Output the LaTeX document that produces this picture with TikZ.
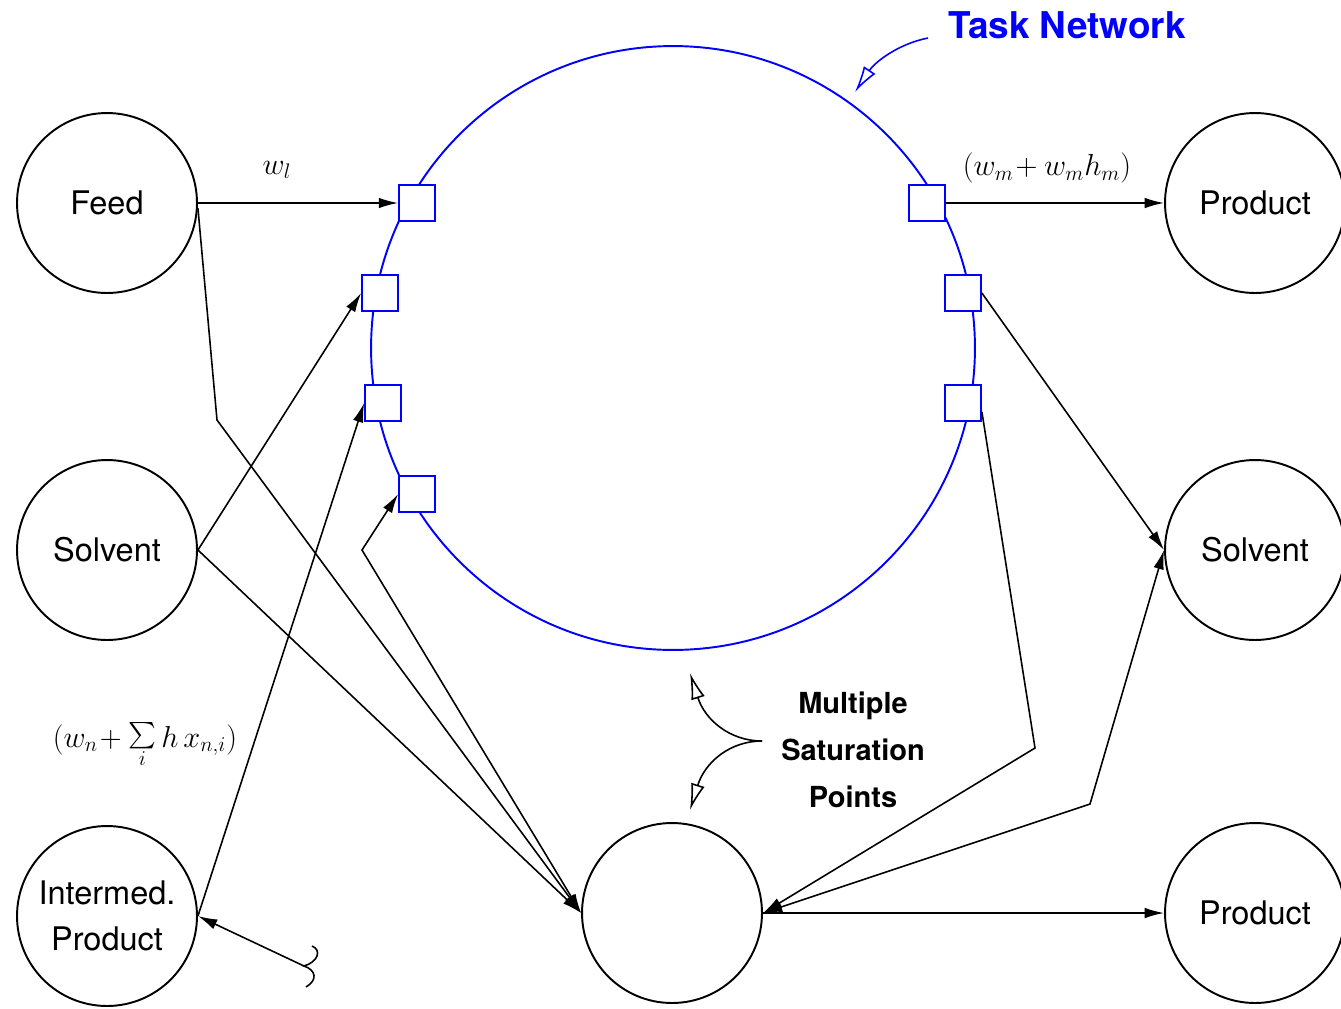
\documentclass[tikz,border=0pt]{standalone}
\usepackage[no-math]{fontspec}
\setmainfont{TeX Gyre Heros}
\usetikzlibrary{arrows.meta,calc}

\begin{document}
\begin{tikzpicture}[x=0.02cm,y=-0.02cm,
  unit/.style={circle,draw,line width=1.1pt,minimum size=3.6cm,inner sep=0pt,
               align=center,font=\fontsize{18.5}{26}\selectfont},
  port/.style={draw=blue,line width=1pt,fill=white,minimum size=0.72cm,inner sep=0pt},
  flow/.style={line width=0.9pt,-{Latex[length=11pt,width=6pt]}},
  both/.style={line width=0.9pt,{Latex[length=11pt,width=6pt]}-{Latex[length=11pt,width=6pt]}},
  note/.style={font=\fontsize{18}{21}\selectfont},
  hollow/.style={line width=0.9pt,-{Latex[open,length=15pt,width=8pt]}}]

\useasboundingbox (0,0) rectangle (1341,1008);

% the task network and its ports
\node[circle,draw=blue,line width=1.1pt,minimum size=12.08cm,inner sep=0pt] (net) at (673,348) {};
\node[port] (pl1) at (417,203) {};
\node[port] (pl2) at (380,293) {};
\node[port] (pl3) at (383,403) {};
\node[port] (pl4) at (417,494) {};
\node[port] (pr1) at (927,203) {};
\node[port] (pr2) at (963,293) {};
\node[port] (pr3) at (963,403) {};

% units
\node[unit] (feed) at (107,203) {Feed};
\node[unit] (solvl) at (107,550) {Solvent};
\node[unit] (inter) at (107,916) {Intermed.\\Product};
\node[unit] (prod1) at (1255,203) {Product};
\node[unit] (solvr) at (1255,550) {Solvent};
\node[unit] (prod2) at (1255,913) {Product};
\node[unit] (sat) at (672,913) {};

% bend points
\coordinate (fb) at (217,420);
\coordinate (sb) at (362,550);
\coordinate (rb1) at (1035,748);
\coordinate (rb2) at (1090,804);
\coordinate (brace) at (304,966);

% streams
\draw[flow] (feed.east) -- (pl1.west);
\draw[flow] ([yshift=-3pt]feed.east) -- (fb) -- (sat.west);
\draw[flow] (solvl.east) -- (pl2.west);
\draw[flow] (solvl.east) -- (sat.west);
\draw[flow] (inter.east) -- (pl3.west);
\draw[both] (pl4.west) -- (sb) -- (sat.west);
\draw[flow] (pr1.east) -- (prod1.west);
\draw[flow] (pr2.east) -- (solvr.west);
\draw[flow] ([yshift=-5pt]pr3.east) -- (rb1) -- (sat.east);
\draw[both] (sat.east) -- (rb2) -- (solvr.west);
\draw[flow] (sat.east) -- (prod2.west);
\draw[flow] (brace) -- (inter.east);

% small brace at the free end
\draw[line width=0.9pt] (312,946) .. controls (322,950) and (318,962) .. (brace)
  .. controls (316,970) and (318,980) .. (306,987);

% labels
\node[note] (wl) at (277,170) {$w_l$};
\node[note] (wm) at (1047,168) {$(w_m\!+ w_m h_m)$};
\node[note] (wn) at (145,745) {$(w_n\!+\mathop{\scalebox{1.5}{$\sum$}}\limits_i h\,x_{n,i})$};
\node[align=center,font=\bfseries\fontsize{16.5}{26.6}\selectfont] (msp) at (853,750)
  {Multiple\\Saturation\\Points};
\node[blue,font=\bfseries\fontsize{21}{24}\selectfont] (tn) at (1067,25) {Task Network};

% pointers
\coordinate (fork) at (762,741);
\coordinate (up) at (690,673);
\coordinate (dn) at (690,810);
\draw[hollow] (fork) .. controls (730,741) and (705,720) .. (up);
\draw[hollow] (fork) .. controls (730,741) and (705,762) .. (dn);
\coordinate (tnfrom) at (928,38);
\coordinate (tnto) at (855,92);
\draw[hollow,blue] (tnfrom) .. controls (898,44) and (875,62) .. (tnto);
\end{tikzpicture}
\end{document}
